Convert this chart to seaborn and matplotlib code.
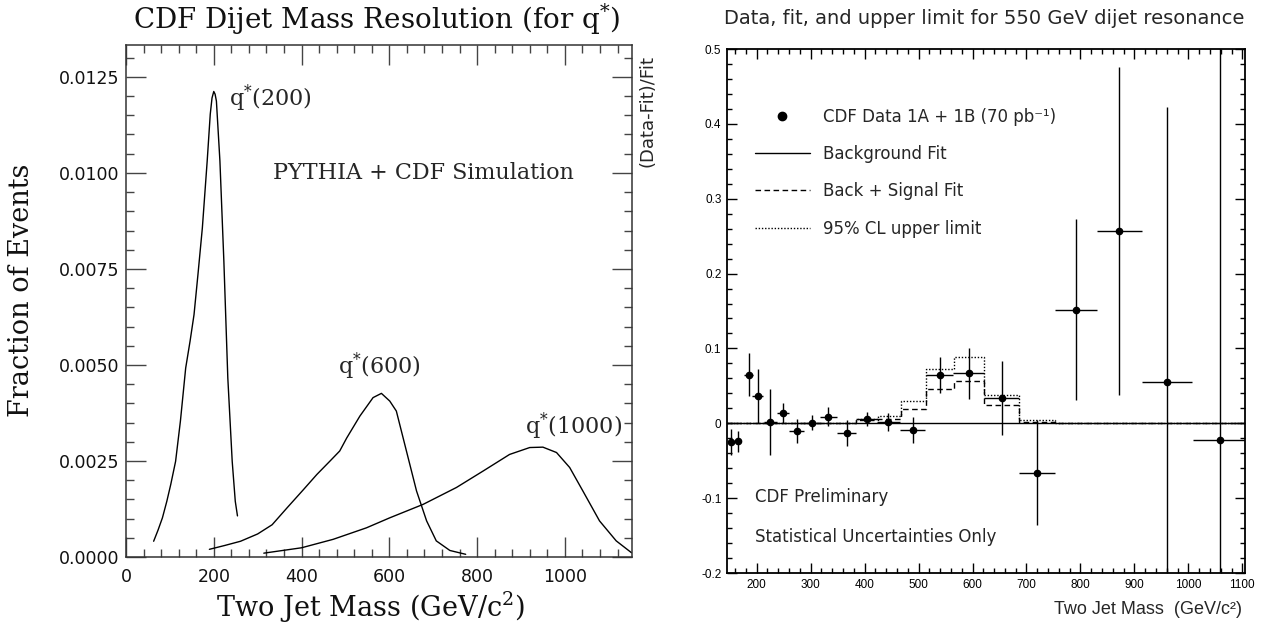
import numpy as np
import pandas as pd
import matplotlib
matplotlib.use("Agg")
import matplotlib.pyplot as plt
from matplotlib.ticker import MultipleLocator, FixedLocator, FixedFormatter
from matplotlib.lines import Line2D
import seaborn as sns

# ---------------- Left panel: mass resolution curves ----------------
q200_mass = [63, 73, 83, 93, 102, 113, 124, 136, 146, 155, 164, 174, 185, 192,
             196, 200, 203, 206, 214, 223, 232, 242, 249, 254]
q200_frac = [0.00041, 0.00070, 0.00102, 0.00145, 0.00189, 0.00249, 0.00354, 0.00492,
             0.00562, 0.00631, 0.00736, 0.00857, 0.01031, 0.01153, 0.01195, 0.01212,
             0.01205, 0.01187, 0.01031, 0.00770, 0.00466, 0.00249, 0.00145, 0.00107]

q600_mass = [190, 225, 261, 300, 333, 367, 404, 435, 465, 487, 503, 533, 563, 582,
             601, 616, 639, 662, 685, 707, 738, 774]
q600_frac = [0.00020, 0.00030, 0.00041, 0.00060, 0.00084, 0.00128, 0.00175, 0.00215,
             0.00250, 0.00276, 0.00310, 0.00367, 0.00415, 0.00426, 0.00406, 0.00380,
             0.00276, 0.00172, 0.00094, 0.00042, 0.00017, 0.00007]

q1000_mass = [314, 400, 472, 548, 601, 677, 753, 814, 874, 920, 950, 981, 1011, 1041,
              1079, 1117, 1152]
q1000_frac = [0.00010, 0.00024, 0.00046, 0.00076, 0.00102, 0.00137, 0.00181, 0.00224,
              0.00267, 0.00285, 0.00286, 0.00272, 0.00233, 0.00172, 0.00094, 0.00042,
              0.00011]

left_xticks = [0, 200, 400, 600, 800, 1000]
left_xticklabels = ["0", "200", "400", "600", "800", "1000"]
left_yticks = [0.0, 0.0025, 0.0050, 0.0075, 0.0100, 0.0125]
left_yticklabels = ["0.0000", "0.0025", "0.0050", "0.0075", "0.0100", "0.0125"]

# ---------------- Right panel: (Data-Fit)/Fit ----------------
data_mass = [152, 166, 185, 202, 225, 249, 274, 302, 333, 367, 404, 444, 489, 539,
             593, 654, 719, 792, 872, 960, 1058]
data_halfwidth = [4, 4, 8.5, 10, 12, 11, 13.5, 16, 15, 18, 20, 21.5, 23.5, 25.5,
                  28.5, 32, 33.5, 39, 41.5, 46.5, 50]
data_ratio = [-0.025, -0.024, 0.065, 0.036, 0.002, 0.014, -0.010, 0.001, 0.009, -0.013,
              0.006, 0.002, -0.009, 0.064, 0.067, 0.034, -0.066, 0.152, 0.257, 0.055,
              -0.022]
data_err = [0.017, 0.014, 0.029, 0.036, 0.044, 0.013, 0.016, 0.010, 0.013, 0.017,
            0.009, 0.012, 0.017, 0.024, 0.034, 0.049, 0.070, 0.121, 0.219, 0.368, 0.75]

fit_edges = [145, 384, 424, 467, 514, 565, 622, 686, 753, 1105]
bkg_fit = [0, 0, 0, 0, 0, 0, 0, 0, 0]
sig_fit = [0, 0.004, 0.006, 0.019, 0.046, 0.056, 0.024, 0.002, 0]
limit_fit = [0, 0.006, 0.010, 0.030, 0.072, 0.088, 0.038, 0.005, 0]

right_xticks = [200, 300, 400, 500, 600, 700, 800, 900, 1000, 1100]
right_xticklabels = ["200", "300", "400", "500", "600", "700", "800", "900", "1000", "1100"]
right_yticks = [-0.2, -0.1, 0.0, 0.1, 0.2, 0.3, 0.4, 0.5]
right_yticklabels = ["-0.2", "-0.1", "0", "0.1", "0.2", "0.3", "0.4", "0.5"]

# ---------------- Style ----------------
sns.set_theme(style="white")
plt.rcParams["font.family"] = ["DejaVu Sans"]
plt.rcParams["mathtext.fontset"] = "dejavuserif"
SERIF = ["DejaVu Serif"]

W, H = 1266, 628
fig = plt.figure(figsize=(W / 100, H / 100), dpi=100)
fig.patch.set_facecolor("white")

ax1 = fig.add_axes([126 / W, 1 - 557 / H, (632 - 126) / W, (557 - 45) / H])
ax2 = fig.add_axes([727 / W, 1 - 573 / H, (1245 - 727) / W, (573 - 49) / H])

# ---------------- Left panel ----------------
for mx, fy in [(q200_mass, q200_frac), (q600_mass, q600_frac), (q1000_mass, q1000_frac)]:
    df = pd.DataFrame({"mass": mx, "frac": fy})
    sns.lineplot(data=df, x="mass", y="frac", ax=ax1, color="black", lw=1.0,
                 sort=False, estimator=None)

ax1.set_xlim(0, 1153)
ax1.set_ylim(0, 0.01333)
ax1.xaxis.set_major_locator(FixedLocator(left_xticks))
ax1.xaxis.set_major_formatter(FixedFormatter(left_xticklabels))
ax1.xaxis.set_minor_locator(MultipleLocator(40))
ax1.yaxis.set_major_locator(FixedLocator(left_yticks))
ax1.yaxis.set_major_formatter(FixedFormatter(left_yticklabels))
ax1.yaxis.set_minor_locator(MultipleLocator(0.0005))
ax1.tick_params(which="both", direction="in", top=True, right=True, bottom=True, left=True,
                color="#444444", labelsize=12.5, labelcolor="#111111")
ax1.tick_params(which="major", length=14.5, width=1.0)
ax1.tick_params(which="minor", length=5.5, width=1.0)
ax1.tick_params(axis="y", pad=5)
ax1.tick_params(axis="x", pad=8)
for sp in ax1.spines.values():
    sp.set_color("#333333")
    sp.set_linewidth(1.1)

ax1.set_xlabel("Two Jet Mass (GeV/c$^{2}$)", family=SERIF, fontsize=19.5, va="center",
               color="#111111")
ax1.xaxis.set_label_coords((370 - 126) / 506, (557 - 607) / 512)
ax1.set_ylabel("Fraction of Events", family=SERIF, fontsize=19.5, va="center",
               color="#111111")
ax1.yaxis.set_label_coords((22 - 126) / 506, (557 - 290) / 512)
fig.text(377 / W, 1 - 19 / H, "CDF Dijet Mass Resolution (for q$^{*}$)", family=SERIF,
         fontsize=20, ha="center", va="center", color="#111111")

ax1.text(235, 0.01195, "q$^{*}$(200)", family=SERIF, fontsize=16, ha="left", va="center")
ax1.text(334, 0.0100, "PYTHIA + CDF Simulation", family=SERIF, fontsize=16,
         ha="left", va="center")
ax1.text(578, 0.00497, "q$^{*}$(600)", family=SERIF, fontsize=16, ha="center", va="center")
ax1.text(1019, 0.00341, "q$^{*}$(1000)", family=SERIF, fontsize=16, ha="center", va="center")

# ---------------- Right panel ----------------
bkg_df = pd.DataFrame({"mass": fit_edges, "val": bkg_fit + [bkg_fit[-1]]})
sig_df = pd.DataFrame({"mass": fit_edges, "val": sig_fit + [sig_fit[-1]]})
lim_df = pd.DataFrame({"mass": fit_edges, "val": limit_fit + [limit_fit[-1]]})

sns.lineplot(data=lim_df, x="mass", y="val", ax=ax2, color="black", lw=1.0,
             drawstyle="steps-post", linestyle=(0, (1, 1.3)), estimator=None)
sns.lineplot(data=sig_df, x="mass", y="val", ax=ax2, color="black", lw=1.0,
             drawstyle="steps-post", linestyle=(0, (4, 2.5)), estimator=None)
sns.lineplot(data=bkg_df, x="mass", y="val", ax=ax2, color="black", lw=1.0,
             drawstyle="steps-post", estimator=None)

ax2.errorbar(data_mass, data_ratio, xerr=data_halfwidth, yerr=data_err, fmt="o",
             color="black", ms=4.5, lw=1.0, capsize=0, elinewidth=1.0)

ax2.set_xlim(145, 1105)
ax2.set_ylim(-0.2, 0.5)
ax2.xaxis.set_major_locator(FixedLocator(right_xticks))
ax2.xaxis.set_major_formatter(FixedFormatter(right_xticklabels))
ax2.xaxis.set_minor_locator(MultipleLocator(20))
ax2.yaxis.set_major_locator(FixedLocator(right_yticks))
ax2.yaxis.set_major_formatter(FixedFormatter(right_yticklabels))
ax2.yaxis.set_minor_locator(MultipleLocator(0.02))
ax2.tick_params(which="both", direction="in", top=True, right=True, bottom=True, left=True,
                color="black", labelsize=8.5, labelcolor="black")
ax2.tick_params(which="major", length=7.5, width=1.0)
ax2.tick_params(which="minor", length=3.6, width=1.0)
ax2.tick_params(axis="y", pad=4)
ax2.tick_params(axis="x", pad=4)
for lab in ax2.get_xticklabels() + ax2.get_yticklabels():
    lab.set_family(["Liberation Sans"])
for sp in ax2.spines.values():
    sp.set_color("black")
    sp.set_linewidth(1.3)

ax2.set_xlabel("Two Jet Mass  (GeV/c²)", family=["Liberation Sans"], fontsize=13,
               ha="right", va="center")
ax2.xaxis.set_label_coords((1242 - 727) / 518, (573 - 610) / 524)
ax2.set_ylabel("(Data-Fit)/Fit", fontsize=13, ha="right", va="center")
ax2.yaxis.set_label_coords((648 - 727) / 518, (573 - 55) / 524)
fig.text(984 / W, 1 - 18 / H, "Data, fit, and upper limit for 550 GeV dijet resonance",
         fontsize=14, ha="center", va="center")

handles = [
    Line2D([], [], marker="o", color="black", linestyle="none", ms=6),
    Line2D([], [], color="black", lw=1.0),
    Line2D([], [], color="black", lw=1.0, linestyle=(0, (4, 2.5))),
    Line2D([], [], color="black", lw=1.0, linestyle=(0, (1, 1.3))),
]
labels = ["CDF Data 1A + 1B (70 pb⁻¹)", "Background Fit", "Back + Signal Fit",
          "95% CL upper limit"]
ax2.legend(handles, labels, loc="upper left",
           bbox_to_anchor=((755 - 727) / 518, (573 - 108) / 524),
           frameon=False, fontsize=12, handlelength=3.3, handletextpad=0.8,
           labelspacing=1.15, borderpad=0, borderaxespad=0)

ax2.text((755 - 727) / 518, (573 - 497) / 524, "CDF Preliminary", transform=ax2.transAxes,
         fontsize=12, ha="left", va="center")
ax2.text((755 - 727) / 518, (573 - 537) / 524, "Statistical Uncertainties Only",
         transform=ax2.transAxes, fontsize=12, ha="left", va="center")

fig.savefig("out.png", dpi=100, facecolor="white")
